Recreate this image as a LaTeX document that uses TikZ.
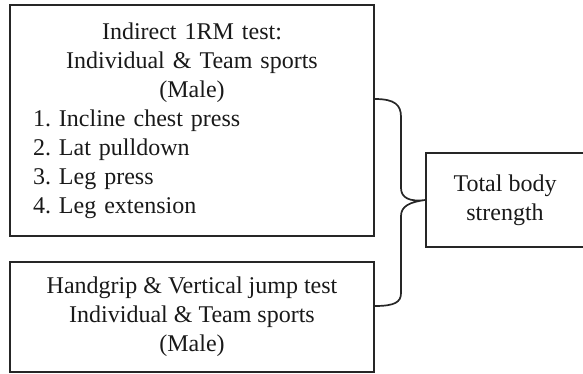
\documentclass[tikz,border=0pt]{standalone}
\usepackage{fontspec}
\setmainfont{Liberation Serif}
\usetikzlibrary{positioning}
\frenchspacing

\begin{document}
\begin{tikzpicture}[x=1pt,y=-1pt,
		test box/.style={rectangle,draw=black!85,line width=1.7pt,inner sep=0pt,
			font=\fontsize{24}{29}\selectfont,text=black!90},
		brace line/.style={draw=black!85,line width=1.7pt}]

	\useasboundingbox (0,0) rectangle (583,373);

	\node[test box,minimum width=364pt,minimum height=231pt,text width=318pt,align=left] (rm) at (192,120.5)
	{{\centering Indirect 1RM test:\\ Individual \& Team sports\\ (Male)\par}
		\noindent 1. Incline chest press\\ 2. Lat pulldown\\ 3. Leg press\\ 4. Leg extension};
	\node[test box,minimum width=364pt,minimum height=110pt,align=center] (hj) at (192,317)
	{Handgrip \& Vertical jump test\\ Individual \& Team sports\\ (Male)};
	\node[test box,minimum width=158pt,minimum height=94pt,align=center] (total) at (505,200)
	{Total body\\ strength};

	\coordinate (rm arm) at (rm.east |- 0,99);
	\coordinate (hj arm) at (hj.east |- 0,306);

	\path[brace line] (rm arm) .. controls (395,99) and (401,105) .. (401,117) -- (401,188)
	.. controls (401,198) and (410,202) .. (total.west)
	.. controls (410,202) and (401,206) .. (401,216) -- (401,293)
	.. controls (401,302) and (395,306) .. (hj arm);

\end{tikzpicture}
\end{document}
